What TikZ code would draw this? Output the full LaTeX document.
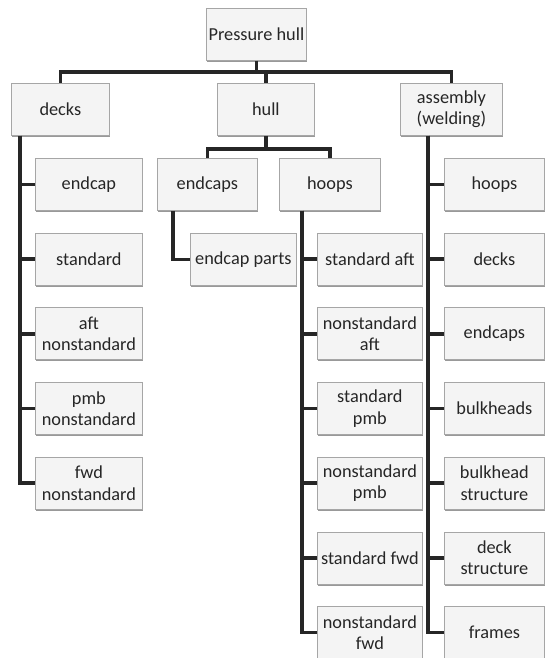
\documentclass[tikz,border=0pt]{standalone}
\usepackage{fontspec}
\setmainfont{Carlito}
\usetikzlibrary{shadows}

\begin{document}
\begin{tikzpicture}[x=1pt, y=-1pt,
  caja/.style={draw=gray!70, fill=gray!9, line width=0.8pt, anchor=north west,
    minimum height=52pt, inner sep=0pt, align=center, text=black!85,
    font=\fontsize{18.3}{21.5}\selectfont,
    drop shadow={shadow xshift=0.6pt, shadow yshift=-1.6pt, fill=gray, opacity=0.8}},
  enlace/.style={line width=3.6pt, draw=black!85}]
\useasboundingbox (0,0) rectangle (545,658);
% nivel 0 y 1
\node[caja, minimum width=100pt] (root) at (206,8) {Pressure hull};
\node[caja, minimum width=98pt] (decks) at (11,83) {decks};
\node[caja, minimum width=97pt] (hull) at (217,83) {hull};
\node[caja, minimum width=102pt] (asm) at (400,83) {assembly\\(welding)};
% nivel 2 (hull)
\node[caja, minimum width=100pt] (ecs) at (157,158) {endcaps};
\node[caja, minimum width=101pt] (hoops) at (279,158) {hoops};
\node[caja, minimum width=106pt] (ecp) at (190,233) {endcap parts};
% columnas
\foreach \txt [count=\i from 0] in {endcap, standard, {aft\\nonstandard},
    {pmb\\nonstandard}, {fwd\\nonstandard}}
  \node[caja, minimum width=107pt] (dk\i) at (35,158+74.7*\i) {\txt};
\foreach \txt [count=\i] in {standard aft, {nonstandard\\aft}, {standard\\pmb},
    {nonstandard\\pmb}, standard fwd, {nonstandard\\fwd}}
  \node[caja, minimum width=105pt] (hp\i) at (317,158+74.7*\i) {\txt};
\foreach \txt [count=\i from 0] in {hoops, decks, endcaps, bulkheads,
    {bulkhead\\structure}, {deck\\structure}, frames}
  \node[caja, minimum width=100pt] (as\i) at (444,158+74.7*\i) {\txt};
% enlaces
\coordinate (barra) at (0,72);
\coordinate (barra2) at (0,149);
\foreach \n in {decks, hull, asm}
  \draw[enlace] (root.south) -- (root.south |- barra) -| (\n.north);
\foreach \n in {ecs, hoops}
  \draw[enlace] (hull.south) -- (hull.south |- barra2) -| (\n.north);
\foreach \i in {0,...,4}
  \draw[enlace] ([xshift=9pt]decks.south west) |- (dk\i.west);
\draw[enlace] ([xshift=16pt]ecs.south west) |- (ecp.west);
\foreach \i in {1,...,6}
  \draw[enlace] ([xshift=23pt]hoops.south west) |- (hp\i.west);
\foreach \i in {0,...,6}
  \draw[enlace] ([xshift=28pt]asm.south west) |- (as\i.west);
\end{tikzpicture}
\end{document}
